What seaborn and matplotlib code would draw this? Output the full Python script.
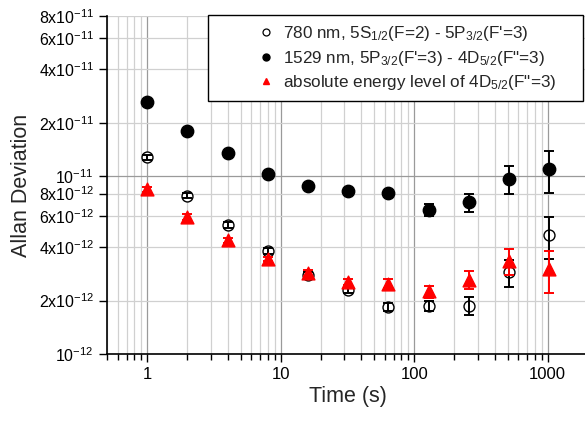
import numpy as np
import pandas as pd
import matplotlib
matplotlib.use("Agg")
import matplotlib.pyplot as plt
import matplotlib.ticker as mticker
import seaborn as sns

# averaging times (s)
tau = [1, 2, 4, 8, 16, 32, 64, 128, 256, 512, 1024]

# 780 nm lock
adev_780 = [1.28e-11, 7.8e-12, 5.35e-12, 3.82e-12, 2.78e-12, 2.3e-12,
            1.84e-12, 1.87e-12, 1.87e-12, 2.9e-12, 4.66e-12]
err_780 = [0.45e-12, 0.28e-12, 0.2e-12, 0.15e-12, 0.1e-12, 0.1e-12,
           0.1e-12, 0.13e-12, 0.22e-12, 0.5e-12, 1.25e-12]

# 1529 nm lock
adev_1529 = [2.62e-11, 1.8e-11, 1.35e-11, 1.035e-11, 8.8e-12, 8.26e-12,
             8.05e-12, 6.45e-12, 7.16e-12, 9.7e-12, 1.10e-11]
err_1529 = [0.2e-12, 0.15e-12, 0.1e-12, 0.1e-12, 0.1e-12, 0.1e-12,
            0.2e-12, 0.5e-12, 0.85e-12, 1.7e-12, 2.9e-12]

# absolute level of 4D5/2
adev_abs = [8.45e-12, 5.92e-12, 4.37e-12, 3.43e-12, 2.86e-12, 2.56e-12,
            2.49e-12, 2.25e-12, 2.62e-12, 3.35e-12, 3.02e-12]
err_abs = [0.3e-12, 0.2e-12, 0.15e-12, 0.1e-12, 0.1e-12, 0.1e-12,
           0.15e-12, 0.17e-12, 0.3e-12, 0.55e-12, 0.8e-12]

labels = [r"780 nm, 5S$_{1/2}$(F=2) - 5P$_{3/2}$(F'=3)",
          r'1529 nm, 5P$_{3/2}$(F'"'"'=3) - 4D$_{5/2}$(F"=3)',
          r'absolute energy level of 4D$_{5/2}$(F"=3)']

ytick_vals = [1e-12, 2e-12, 4e-12, 6e-12, 8e-12, 1e-11, 2e-11, 4e-11, 6e-11, 8e-11]
ytick_labels = [r"10$^{-12}$", r"2x10$^{-12}$", r"4x10$^{-12}$", r"6x10$^{-12}$",
                r"8x10$^{-12}$", r"10$^{-11}$", r"2x10$^{-11}$", r"4x10$^{-11}$",
                r"6x10$^{-11}$", r"8x10$^{-11}$"]

sns.set_style("ticks")
plt.rcParams["font.family"] = ["Liberation Sans", "DejaVu Sans"]
plt.rcParams["mathtext.fontset"] = "custom"
plt.rcParams["mathtext.rm"] = "Liberation Sans"
plt.rcParams["mathtext.it"] = "Liberation Sans"
plt.rcParams["mathtext.default"] = "regular"

df = pd.DataFrame({
    "tau": tau * 3,
    "adev": adev_780 + adev_1529 + adev_abs,
    "err": err_780 + err_1529 + err_abs,
    "series": [labels[0]] * 11 + [labels[1]] * 11 + [labels[2]] * 11,
})

fig = plt.figure(figsize=(5.85, 4.21), dpi=100)
ax = fig.add_axes([0.183, 0.159, 0.822, 0.803])
ax.set_xscale("log")
ax.set_yscale("log")

# grid first
ax.set_axisbelow(True)
ax.grid(True, which="major", color="#9a9a9a", lw=0.9)
ax.grid(True, which="minor", color="#d0d0d0", lw=0.9)

styles = {
    labels[0]: dict(marker="o", color="white", ec="black", s=62, ecolor="black", z=4),
    labels[1]: dict(marker="o", color="black", ec="black", s=80, ecolor="black", z=3),
    labels[2]: dict(marker="^", color="red", ec="red", s=85, ecolor="red", z=5),
}

for lab in [labels[1], labels[0], labels[2]]:
    d = df[df["series"] == lab]
    st = styles[lab]
    ax.errorbar(d["tau"], d["adev"], yerr=d["err"], fmt="none", ecolor=st["ecolor"],
                elinewidth=1.4, capsize=3.5, capthick=1.4,
                zorder=st["z"] + 0.5 if lab == labels[0] else st["z"])
    sns.scatterplot(x=d["tau"], y=d["adev"], ax=ax, marker=st["marker"], color=st["color"],
                    edgecolor=st["ec"], linewidth=1.0, s=st["s"], zorder=st["z"], legend=False)

ax.set_xlim(0.5, 2000)
ax.set_ylim(1e-12, 8e-11)

ax.xaxis.set_major_locator(mticker.FixedLocator([1, 10, 100, 1000]))
ax.xaxis.set_major_formatter(mticker.FixedFormatter(["1", "10", "100", "1000"]))
ax.xaxis.set_minor_locator(mticker.LogLocator(base=10, subs=np.arange(2, 10), numticks=20))
ax.xaxis.set_minor_formatter(mticker.NullFormatter())

ax.yaxis.set_major_locator(mticker.FixedLocator([1e-12, 1e-11]))
ax.yaxis.set_minor_locator(mticker.FixedLocator([v for v in ytick_vals if v not in (1e-12, 1e-11)]))
ax.yaxis.set_major_formatter(mticker.FixedFormatter([ytick_labels[0], ytick_labels[5]]))
ax.yaxis.set_minor_formatter(mticker.FixedFormatter([l for v, l in zip(ytick_vals, ytick_labels)
                                                     if v not in (1e-12, 1e-11)]))

ax.tick_params(axis="both", which="both", direction="out", colors="black", labelsize=12)
ax.tick_params(axis="y", which="both", labelsize=11.5)
ax.tick_params(axis="x", which="major", length=6, width=1.0)
ax.tick_params(axis="x", which="minor", length=4, width=1.0)
ax.tick_params(axis="y", which="both", length=6, width=1.0)

sns.despine(ax=ax, top=True, right=True)
for sp in ["left", "bottom"]:
    ax.spines[sp].set_color("black")
    ax.spines[sp].set_linewidth(1.2)

ax.set_xlabel("Time (s)", fontsize=15.5, labelpad=3)
ax.set_ylabel("Allan Deviation", fontsize=15.5, labelpad=5)

handles = [
    plt.Line2D([], [], ls="none", marker="o", mfc="white", mec="black", ms=5, mew=0.9),
    plt.Line2D([], [], ls="none", marker="o", mfc="black", mec="black", ms=5),
    plt.Line2D([], [], ls="none", marker="^", mfc="red", mec="red", ms=5),
]
leg = ax.legend(handles, labels, loc="upper left", bbox_to_anchor=(0.21, 0.751, 0.78, 0.252),
                mode="expand", borderaxespad=0, fontsize=12.3, frameon=True, fancybox=False,
                edgecolor="black", framealpha=1, borderpad=0.55, labelspacing=0.3,
                handletextpad=-1.85, handlelength=5.7)
leg.get_frame().set_linewidth(1.0)
leg.set_zorder(10)

fig.savefig("out.png", dpi=100)
